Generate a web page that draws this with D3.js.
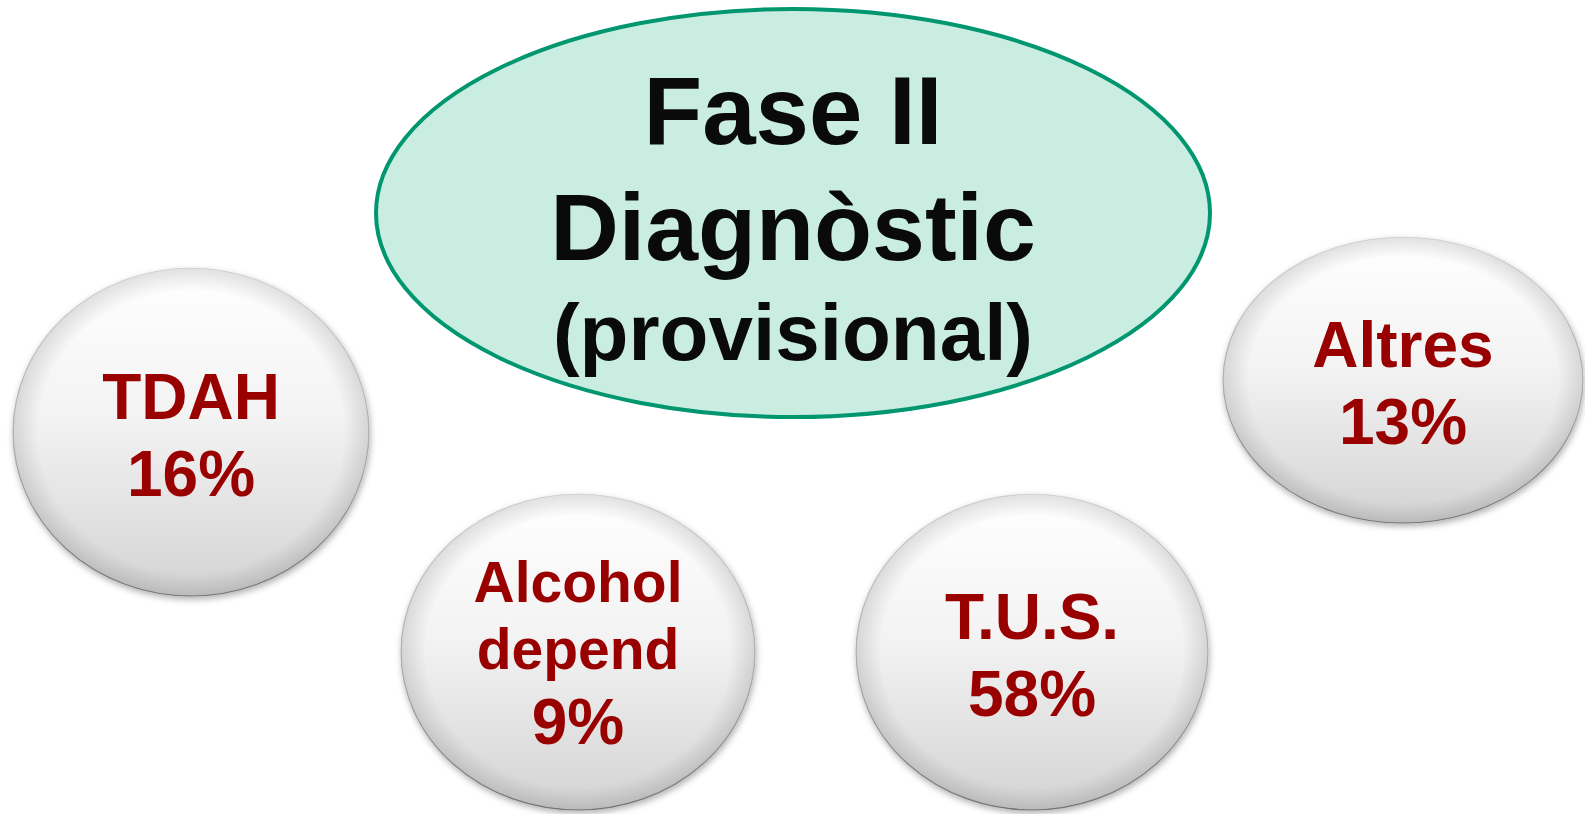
<!DOCTYPE html>
<html>
<head>
<meta charset="utf-8">
<script src="https://cdn.jsdelivr.net/npm/d3@7"></script>
<style>
  html, body { margin: 0; padding: 0; background: #ffffff; }
  svg { display: block; }
</style>
</head>
<body>
<div id="chart"></div>
<script>
// data
const titleLines = ["Fase II", "Diagnòstic", "(provisional)"];
const categories = [["TDAH"], ["Alcohol", "depend"], ["T.U.S."], ["Altres"]];
const percents = [16, 9, 58, 13];

// layout (pixel positions of bubble centres / radii)
const bubbleLayout = [
  { cx: 191, cy: 432, rx: 178, ry: 164 },
  { cx: 578, cy: 652, rx: 177, ry: 158 },
  { cx: 1032, cy: 652, rx: 176, ry: 158 },
  { cx: 1403, cy: 380, rx: 180, ry: 143 }
];

const width = 1585, height = 814;
const svg = d3.select("#chart")
  .append("svg")
  .attr("width", width)
  .attr("height", height);

const defs = svg.append("defs");
const grad = defs.append("linearGradient")
  .attr("id", "bubbleFill")
  .attr("x1", 0).attr("y1", 0).attr("x2", 0).attr("y2", 1);
grad.append("stop").attr("offset", "0%").attr("stop-color", "#ffffff");
grad.append("stop").attr("offset", "45%").attr("stop-color", "#f3f3f3");
grad.append("stop").attr("offset", "100%").attr("stop-color", "#d3d3d3");

const edge = defs.append("linearGradient")
  .attr("id", "bubbleEdge")
  .attr("x1", 0).attr("y1", 0).attr("x2", 0).attr("y2", 1);
edge.append("stop").attr("offset", "0%").attr("stop-color", "#e2e2e2");
edge.append("stop").attr("offset", "60%").attr("stop-color", "#b0b0b0");
edge.append("stop").attr("offset", "100%").attr("stop-color", "#7a7a7a");

const rim = defs.append("radialGradient")
  .attr("id", "bubbleRim")
  .attr("cx", "50%").attr("cy", "50%").attr("r", "50%");
rim.append("stop").attr("offset", "86%").attr("stop-color", "#000").attr("stop-opacity", 0);
rim.append("stop").attr("offset", "100%").attr("stop-color", "#000").attr("stop-opacity", 0.12);

const shadow = defs.append("filter")
  .attr("id", "shadow")
  .attr("x", "-10%").attr("y", "-10%").attr("width", "120%").attr("height", "125%");
shadow.append("feDropShadow")
  .attr("dx", 1).attr("dy", 3)
  .attr("stdDeviation", 3)
  .attr("flood-color", "#000")
  .attr("flood-opacity", 0.3);

// central ellipse
const title = svg.append("g");
title.append("ellipse")
  .attr("cx", 793).attr("cy", 213)
  .attr("rx", 417).attr("ry", 204)
  .attr("fill", "#c9ede0")
  .attr("stroke", "#00966f")
  .attr("stroke-width", 4);

const titleSizes = [96, 95, 80];
const titleBase = [144, 260, 360];
title.selectAll("text")
  .data(titleLines)
  .enter()
  .append("text")
    .attr("x", 793)
    .attr("y", (d, i) => titleBase[i])
    .attr("text-anchor", "middle")
    .style("font-family", "'Liberation Sans', Arial, sans-serif")
    .style("font-weight", "bold")
    .style("font-size", (d, i) => titleSizes[i] + "px")
    .style("fill", "#0a0a0a")
    .text(d => d);

// bubbles
const bubbles = svg.selectAll("g.bubble")
  .data(categories.map((c, i) => ({ lines: c.concat([percents[i] + "%"]), pos: bubbleLayout[i] })))
  .enter()
  .append("g")
    .attr("class", "bubble")
    .attr("transform", d => "translate(" + d.pos.cx + "," + d.pos.cy + ")");

bubbles.append("ellipse")
  .attr("rx", d => d.pos.rx)
  .attr("ry", d => d.pos.ry)
  .attr("fill", "url(#bubbleFill)")
  .attr("stroke", "url(#bubbleEdge)")
  .attr("stroke-width", 1.2)
  .attr("filter", "url(#shadow)");

bubbles.append("ellipse")
  .attr("rx", d => d.pos.rx)
  .attr("ry", d => d.pos.ry)
  .attr("fill", "url(#bubbleRim)");

bubbles.selectAll("text")
  .data(d => {
    const n = d.lines.length;
    const offs = n === 3 ? [-50, 17, 92] : [-13, 64];
    const sizes = n === 3 ? [57, 57, 64] : [64, 64];
    return d.lines.map((t, i) => ({ t: t, y: offs[i], s: sizes[i] }));
  })
  .enter()
  .append("text")
    .attr("x", 0)
    .attr("y", d => d.y)
    .attr("text-anchor", "middle")
    .style("font-family", "'Liberation Sans', Arial, sans-serif")
    .style("font-weight", "bold")
    .style("font-size", d => d.s + "px")
    .style("fill", "#990000")
    .text(d => d.t);
</script>
</body>
</html>
